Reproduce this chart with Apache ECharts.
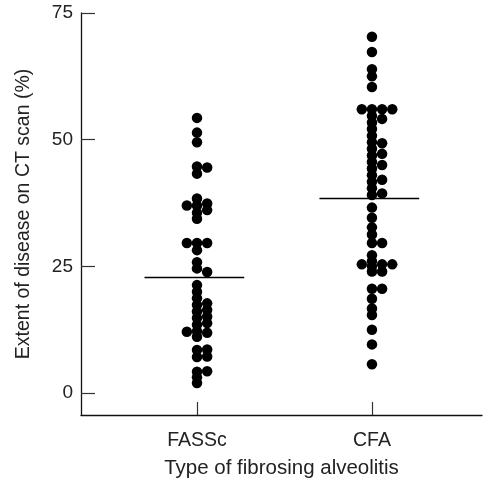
<!DOCTYPE html>
<html>
<head>
<meta charset="utf-8">
<script src="https://cdn.jsdelivr.net/npm/echarts@6/dist/echarts.min.js"></script>
<style>
  html, body { margin: 0; padding: 0; background: #fff; }
  #main { width: 485px; height: 480px; }
</style>
</head>
<body>
<div id="main"></div>
<script>
var categories = ["FASSc", "CFA"];
var yTicks = [0, 25, 50, 75];

// extent values (%) per group, with the dot-plot column each dot sits in
var fasscValues = [54.3, 51.4, 49.5, 44.7, 43.3, 38.4, 37.0, 35.6, 34.4, 29.6, 28.2, 25.8, 24.6,
  21.3, 20.0, 18.7, 17.4, 16.1, 14.8, 13.5, 12.2, 11.1, 8.5, 7.1, 4.2, 3.1, 2.0,
  44.5, 37.4, 36.1, 29.6, 23.9, 17.7, 16.4, 15.1, 13.8, 11.9, 8.6, 7.2, 4.3,
  37.0, 29.6, 12.1];
var fasscCols = [0, 0, 0, 0, 0, 0, 0, 0, 0, 0, 0, 0, 0,
  0, 0, 0, 0, 0, 0, 0, 0, 0, 0, 0, 0, 0, 0,
  1, 1, 1, 1, 1, 1, 1, 1, 1, 1, 1, 1, 1,
  -1, -1, -1];

var cfaValues = [70.3, 67.3, 63.9, 62.5, 60.4, 56.0, 54.7, 53.4, 52.1, 50.8, 49.5, 48.2, 46.9,
  45.6, 44.3, 43.0, 41.7, 40.4, 39.1, 36.6, 34.6, 32.7, 31.3, 29.6, 27.2, 26.0, 25.0, 24.0,
  20.6, 18.6, 16.7, 15.4, 12.5, 9.6, 5.7,
  56.0, 54.1, 49.3, 47.2, 45.0, 42.1, 39.4, 29.6, 25.4, 24.0, 20.6,
  56.0, 25.4,
  56.0, 25.4];
var cfaCols = [0, 0, 0, 0, 0, 0, 0, 0, 0, 0, 0, 0, 0,
  0, 0, 0, 0, 0, 0, 0, 0, 0, 0, 0, 0, 0, 0, 0,
  0, 0, 0, 0, 0, 0, 0,
  1, 1, 1, 1, 1, 1, 1, 1, 1, 1, 1,
  2, 2,
  -1, -1];

var medians = [22.8, 38.4];

var colStep = 0.058;

function toPoints(values, cols, pos) {
  var arr = [];
  values.forEach(function (v, i) {
    arr.push([pos + cols[i] * colStep, v]);
  });
  return arr;
}

function medianLine(pos, m) {
  return [[pos - 0.3, m], [pos + 0.27, m]];
}

var chart = echarts.init(document.getElementById("main"));
var font = "Liberation Sans, Arial, sans-serif";

var option = {
  animation: false,
  grid: { left: 81, right: 3, top: 13, bottom: 65, containLabel: false, outerBoundsMode: "none" },
  xAxis: {
    type: "value",
    min: 0.337,
    max: 2.629,
    name: "Type of fibrosing alveolitis",
    nameLocation: "middle",
    nameGap: 43,
    nameTextStyle: { fontFamily: font, fontSize: 20.5, color: "#222" },
    axisLine: { show: true, onZero: false, lineStyle: { color: "#111", width: 1.3 } },
    axisTick: { show: true, inside: true, length: 13, customValues: [1, 2], lineStyle: { color: "#333", width: 1.2 } },
    axisLabel: {
      customValues: [1, 2],
      margin: 16,
      fontFamily: font,
      fontSize: 19.5,
      color: "#222",
      formatter: function (v) { return categories[Math.round(v) - 1]; }
    },
    splitLine: { show: false }
  },
  yAxis: {
    type: "value",
    min: -4.33,
    max: 75,
    name: "Extent of disease on CT scan (%)",
    nameLocation: "middle",
    nameRotate: 90,
    nameGap: 47,
    nameTextStyle: { fontFamily: font, fontSize: 19.5, color: "#222" },
    axisLine: { show: true, onZero: false, lineStyle: { color: "#111", width: 1.3 } },
    axisTick: { show: true, inside: true, length: 14, customValues: yTicks, lineStyle: { color: "#333", width: 1.2 } },
    axisLabel: {
      customValues: yTicks,
      margin: 8,
      fontFamily: font,
      fontSize: 19,
      color: "#222"
    },
    splitLine: { show: false }
  },
  series: [
    {
      type: "scatter",
      symbolSize: 10.5,
      itemStyle: { color: "#000", opacity: 1 },
      data: toPoints(fasscValues, fasscCols, 1)
    },
    {
      type: "scatter",
      symbolSize: 10.5,
      itemStyle: { color: "#000", opacity: 1 },
      data: toPoints(cfaValues, cfaCols, 2)
    },
    {
      type: "line",
      symbol: "none",
      lineStyle: { color: "#000", width: 1.5 },
      data: medianLine(1, medians[0])
    },
    {
      type: "line",
      symbol: "none",
      lineStyle: { color: "#000", width: 1.5 },
      data: medianLine(2, medians[1])
    }
  ]
};

chart.setOption(option);
</script>
</body>
</html>
